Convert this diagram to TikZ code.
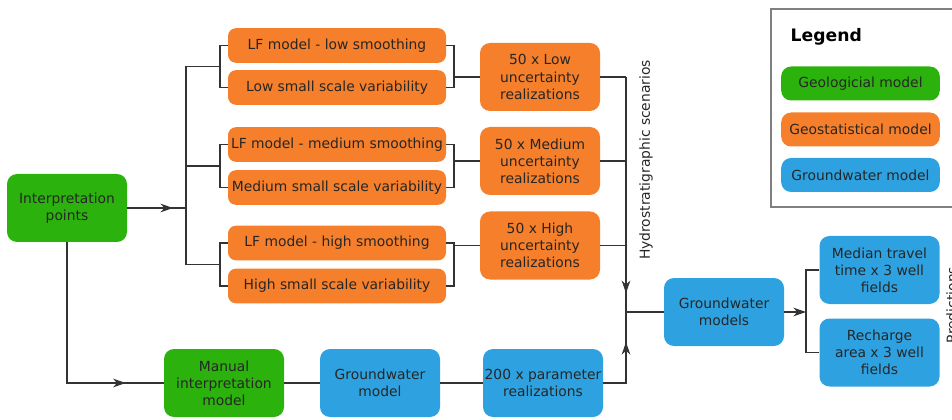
\documentclass[tikz,border=0pt]{standalone}
\usepackage{fontspec}
\setmainfont{DejaVu Sans}
\usetikzlibrary{arrows.meta,decorations.markings}
\definecolor{geogreen}{HTML}{2CB20C}
\definecolor{geoorange}{HTML}{F57F2A}
\definecolor{gwblue}{HTML}{2EA2E0}
\definecolor{linegray}{HTML}{333333}
\tikzset{
  box/.style={rectangle,rounded corners=7.5pt,align=center,text=black!85,inner xsep=1pt,inner ysep=0pt,
    minimum width=90pt,minimum height=51pt,font=\fontsize{10.4}{12.8}\selectfont},
  geol/.style={box,fill=geogreen},
  geos/.style={box,fill=geoorange},
  gwm/.style={box,fill=gwblue},
  slim/.style={minimum width=163.5pt,minimum height=26pt,rounded corners=6pt},
  key/.style={minimum width=119pt,minimum height=25.5pt},
  link/.style={draw=linegray,line width=1pt},
  tipat/.style={postaction={decorate},decoration={markings,
    mark=at position #1 with {\arrow{Stealth[length=9.5pt,width=6.5pt,inset=3pt]}}}},
}
\begin{document}
\begin{tikzpicture}[x=0.75pt,y=-0.75pt]
\useasboundingbox (0,0) rectangle (952,420);
\draw[gray,line width=0.9pt] (771,9) rectangle (962,207);
\node at (786,37) [anchor=west,font=\fontsize{12.9}{15}\selectfont\bfseries] (legend) {Legend};
\node at (860.5,83.5) [geol,key] (k1) {Geologicial model};
\node at (860.5,129.5) [geos,key] (k2) {Geostatistical model};
\node at (860.5,175) [gwm,key] (k3) {Groundwater model};
\node at (67,208) [geol] (ip) {Interpretation\\points};
\node at (337,45.5) [geos,slim] (lf1) {LF model - low smoothing};
\node at (337,87.5) [geos,slim] (ls1) {Low small scale variability};
\node at (337,144.5) [geos,slim] (lf2) {LF model - medium smoothing};
\node at (337,187.5) [geos,slim] (ls2) {Medium small scale variability};
\node at (337,243) [geos,slim] (lf3) {LF model - high smoothing};
\node at (337,286) [geos,slim] (ls3) {High small scale variability};
\node at (540,77) [geos] (r1) {50 x Low\\uncertainty\\realizations};
\node at (540,161) [geos] (r2) {50 x Medium\\uncertainty\\realizations};
\node at (540,245.5) [geos] (r3) {50 x High\\uncertainty\\realizations};
\node at (224,383) [geol] (mi) {Manual\\interpretation\\model};
\node at (380,383) [gwm] (gw) {Groundwater\\model};
\node at (543,383) [gwm] (pr) {200 x parameter\\realizations};
\node at (724,312) [gwm] (gm) {Groundwater\\models};
\node at (879.5,270) [gwm] (mt) {Median travel\\time x 3 well\\fields};
\node at (879.5,352.5) [gwm] (ra) {Recharge\\area x 3 well\\fields};
\node at (639,160) [rotate=90,anchor=north,inner sep=0pt,font=\fontsize{10.4}{12.8}\selectfont,text=black!85] (hsl) {Hydrostratigraphic scenarios};
\node at (946,305) [rotate=90,anchor=north,inner sep=0pt,font=\fontsize{10.4}{12.8}\selectfont,text=black!85] (pdl) {Predictions};
\coordinate (jip) at (186,208);
\coordinate (jt) at (186,66.5);
\coordinate (jb) at (186,264.5);
\coordinate (bl1) at (220,66.5);
\coordinate (bl2) at (220,166);
\coordinate (bl3) at (220,264.5);
\coordinate (br1) at (454,66.5);
\coordinate (br2) at (454,166);
\coordinate (br3) at (454,264.5);
\coordinate (hs) at (626,312);
\coordinate (jp) at (806,312);
\draw[link,tipat=0.78] (ip.east) -- (jip);
\draw[link] (jt) -- (jb);
\draw[link] (jt) -- (bl1);
\draw[link] (jip |- bl2) -- (bl2);
\draw[link] (jb) -- (bl3);
\draw[link] (lf1.west) -| (bl1) |- (ls1.west);
\draw[link] (lf2.west) -| (bl2) |- (ls2.west);
\draw[link] (lf3.west) -| (bl3) |- (ls3.west);
\draw[link] (lf1.east) -| (br1) |- (ls1.east);
\draw[link] (lf2.east) -| (br2) |- (ls2.east);
\draw[link] (lf3.east) -| (br3) |- (ls3.east);
\draw[link] (br1 |- r1) -- (r1.west);
\draw[link] (br2 |- r2) -- (r2.west);
\draw[link] (br3 |- r3) -- (r3.west);
\draw[link] (r1.east) -- (r1 -| hs);
\draw[link] (r2.east) -- (r2 -| hs);
\draw[link] (r3.east) -- (r3 -| hs);
\draw[link,tipat=0.92] (r1 -| hs) -- (hs);
\draw[link,tipat=0.84] (ip.south) |- (mi.west);
\draw[link] (mi) -- (gw);
\draw[link] (gw) -- (pr);
\draw[link,tipat=0.68] (pr.east) -| (hs);
\draw[link] (hs) -- (gm.west);
\draw[link,-{Stealth[length=9.5pt,width=6.5pt,inset=3pt]}] (gm.east) -- (jp);
\draw[link] (mt.west) -| (jp) |- (ra.west);
\end{tikzpicture}
\end{document}
